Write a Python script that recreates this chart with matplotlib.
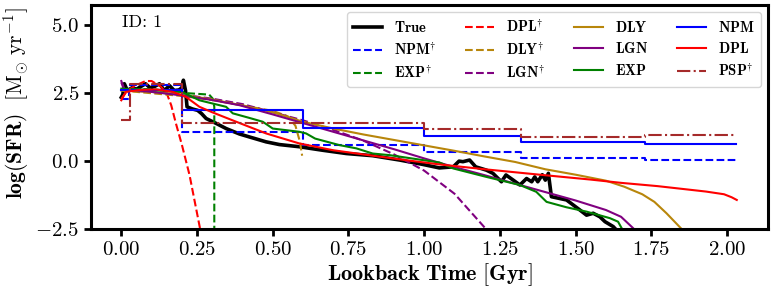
import matplotlib
matplotlib.use('Agg')
import matplotlib.pyplot as plt
import numpy as np

plt.rcParams['font.family'] = 'serif'
plt.rcParams['font.serif'] = ['cmr10']
plt.rcParams['mathtext.fontset'] = 'cm'
plt.rcParams['axes.formatter.use_mathtext'] = True

# values (lookback time [Gyr], log SFR)
true_t = [0, 0.005, 0.01, 0.02, 0.035, 0.05, 0.065, 0.08, 0.095, 0.11, 0.126, 0.142,
          0.159, 0.175, 0.19, 0.2, 0.205, 0.212, 0.217, 0.235, 0.252, 0.265, 0.28,
          0.313, 0.346, 0.39, 0.423, 0.478, 0.522, 0.588, 0.665, 0.743, 0.83, 0.919,
          0.995, 1.05, 1.096, 1.115, 1.128, 1.15, 1.17, 1.205, 1.227, 1.255, 1.27,
          1.294, 1.316, 1.338, 1.355, 1.365, 1.375, 1.39, 1.4, 1.41, 1.42, 1.47,
          1.514, 1.536, 1.558, 1.58, 1.597, 1.624, 1.64]
true_sfr = [2.35, 2.45, 2.85, 2.6, 2.7, 2.65, 2.75, 2.85, 2.7, 2.75, 2.85, 2.6,
            2.78, 2.6, 2.62, 2.7, 2.98, 2.6, 2.0, 1.92, 1.87, 1.75, 1.57,
            1.39, 1.2, 1.0, 0.89, 0.71, 0.61, 0.53, 0.4, 0.28, 0.2, 0.04,
            -0.12, -0.25, -0.21, 0.0, -0.02, 0.04, -0.21, -0.33, -0.45, -0.76, -0.51,
            -0.70, -0.88, -0.64, -0.76, -0.58, -0.76, -0.5, -0.7, -0.45, -1.31, -1.43,
            -1.8, -1.99, -1.92, -2.05, -2.23, -2.41, -2.6]

npm_nc_edges = [0, 0.025, 0.2, 0.6, 1.0, 1.32, 1.73, 2.03]
npm_nc_vals = [2.3, 2.8, 1.08, 0.6, 0.34, 0.12, 0.03]

exp_nc_t = [0, 0.1, 0.2, 0.22, 0.29, 0.302, 0.307, 0.307]
exp_nc_sfr = [2.65, 2.65, 2.55, 2.5, 2.45, 2.3, 2.0, -2.6]

dpl_nc_t = [0, 0.02, 0.05, 0.08, 0.1, 0.13, 0.15, 0.165, 0.18, 0.2, 0.225, 0.262]
dpl_nc_sfr = [2.3, 2.6, 2.8, 2.95, 2.95, 2.75, 2.5, 2.05, 1.4, 0.6, -0.5, -2.6]

dly_nc_t = [0, 0.1, 0.2, 0.3, 0.4, 0.5, 0.55, 0.575, 0.59, 0.597]
dly_nc_sfr = [2.6, 2.5, 2.4, 2.25, 2.05, 1.85, 1.65, 1.3, 0.7, 0.2]

lgn_nc_t = [0, 0.01, 0.1, 0.2, 0.3, 0.4, 0.5, 0.6, 0.7, 0.8, 0.9, 1.0, 1.1, 1.2, 1.21]
lgn_nc_sfr = [2.9, 2.6, 2.55, 2.45, 2.3, 2.1, 1.8, 1.5, 1.15, 0.75, 0.25, -0.35,
              -1.2, -2.45, -2.6]

dly_t = [0, 0.1, 0.2, 0.3, 0.4, 0.5, 0.6, 0.7, 0.8, 0.9, 1.0, 1.1, 1.2, 1.3, 1.4,
         1.5, 1.6, 1.66, 1.72, 1.76, 1.8, 1.85, 1.86]
dly_sfr = [2.6, 2.55, 2.45, 2.27, 2.05, 1.8, 1.45, 1.2, 0.98, 0.78, 0.58, 0.38, 0.17,
           -0.03, -0.3, -0.5, -0.72, -0.94, -1.22, -1.5, -1.92, -2.5, -2.6]

lgn_t = [0, 0.01, 0.1, 0.2, 0.3, 0.39, 0.5, 0.6, 0.7, 0.8, 0.9, 1.0, 1.1, 1.2, 1.3,
         1.4, 1.5, 1.6, 1.65, 1.69, 1.7]
lgn_sfr = [2.95, 2.65, 2.55, 2.42, 2.25, 2.06, 1.72, 1.4, 1.08, 0.76, 0.44, 0.1,
           -0.22, -0.52, -0.83, -1.14, -1.45, -1.8, -2.05, -2.47, -2.6]

exp_t = [0, 0.1, 0.2, 0.258, 0.346, 0.368, 0.42, 0.467, 0.5, 0.588, 0.61, 0.64, 0.72,
         0.776, 0.83, 0.886, 0.995, 1.05, 1.096, 1.205, 1.316, 1.37, 1.404, 1.47,
         1.536, 1.613, 1.64, 1.652, 1.66]
exp_sfr = [2.67, 2.62, 2.55, 2.24, 2.0, 1.76, 1.6, 1.45, 1.2, 1.08, 1.02, 0.83, 0.59,
           0.47, 0.28, 0.22, 0.04, -0.05, -0.27, -0.58, -0.88, -1.13, -1.5, -1.7,
           -1.86, -2.1, -2.23, -2.47, -2.6]

npm_edges = [0, 0.2, 0.6, 1.0, 1.32, 1.73, 2.03]
npm_vals = [2.62, 1.87, 1.22, 0.92, 0.72, 0.62]

dpl_t = [0, 0.015, 0.06, 0.115, 0.17, 0.214, 0.258, 0.3, 0.368, 0.478, 0.588, 0.7,
         0.83, 0.95, 1.05, 1.2, 1.4, 1.55, 1.65, 1.77, 1.93, 1.99, 2.015, 2.032]
dpl_sfr = [2.24, 2.55, 2.62, 2.64, 2.55, 2.36, 2.0, 1.8, 1.5, 1.02, 0.65, 0.4,
           0.2, 0.02, -0.12, -0.3, -0.52, -0.68, -0.8, -0.92, -1.12, -1.22, -1.33, -1.43]

psp_edges = [0, 0.03, 0.2, 1.0, 1.32, 1.73, 2.03]
psp_vals = [1.5, 2.85, 1.4, 1.2, 0.89, 0.97]


def dag(name):
    return r'$\mathbf{%s}^{\dagger}$' % name


fig = plt.figure(figsize=(7.74, 2.9), dpi=100)
ax = fig.add_axes([0.1176, 0.2103, 0.8746, 0.7725])

ax.plot(true_t, true_sfr, color='k', lw=2.6, label=r'$\mathbf{True}$')
ax.step(npm_nc_edges, npm_nc_vals + [npm_nc_vals[-1]], where='post', color='blue',
        ls='--', lw=1.5, label=dag('NPM'))
ax.plot(exp_nc_t, exp_nc_sfr, color='green', ls='--', lw=1.5, label=dag('EXP'))
ax.plot(dpl_nc_t, dpl_nc_sfr, color='red', ls='--', lw=1.5, label=dag('DPL'))
ax.plot(dly_nc_t, dly_nc_sfr, color='darkgoldenrod', ls='--', lw=1.5, label=dag('DLY'))
ax.plot(lgn_nc_t, lgn_nc_sfr, color='purple', ls='--', lw=1.5, label=dag('LGN'))
ax.plot(dly_t, dly_sfr, color='darkgoldenrod', lw=1.5, label=r'$\mathbf{DLY}$')
ax.plot(lgn_t, lgn_sfr, color='purple', lw=1.5, label=r'$\mathbf{LGN}$')
ax.plot(exp_t, exp_sfr, color='green', lw=1.5, label=r'$\mathbf{EXP}$')
ax.step(npm_edges, npm_vals + [npm_vals[-1]], where='post', color='blue', lw=1.5,
        label=r'$\mathbf{NPM}$')
ax.plot(dpl_t, dpl_sfr, color='red', lw=1.5, label=r'$\mathbf{DPL}$')
ax.step(psp_edges, psp_vals + [psp_vals[-1]], where='post', color='brown', ls='-.',
        lw=1.5, label=dag('PSP'))

ax.set_xlim(-0.1, 2.135)
ax.set_ylim(-2.5, 5.75)
ax.set_yticks([-2.5, 0.0, 2.5, 5.0])
ax.set_xticks([0, 0.25, 0.5, 0.75, 1.0, 1.25, 1.5, 1.75, 2.0])
ax.xaxis.set_major_formatter(matplotlib.ticker.FormatStrFormatter(r'$%.2f$'))
ax.yaxis.set_major_formatter(matplotlib.ticker.FormatStrFormatter(r'$%.1f$'))
ax.tick_params(labelsize=15, width=2, length=5)
for s in ax.spines.values():
    s.set_linewidth(2.2)

ax.set_xlabel(r'$\mathbf{Lookback\ Time\ [Gyr]}$', fontsize=16, labelpad=2)
ax.set_ylabel(r'$\mathbf{log(SFR)}\ \ [\mathrm{M_{\odot}\ yr^{\mathbf{-1}}}]$',
              fontsize=15.5)
ax.yaxis.set_label_coords(-0.088, 0.56)

ax.text(0.046, 0.955, 'ID: 1', transform=ax.transAxes, fontsize=13, va='top')

ax.legend(loc='upper right', ncol=4, fontsize=10.5,
          handlelength=2.0, columnspacing=2.0, labelspacing=0.45)

fig.savefig('out.png', dpi=100)
